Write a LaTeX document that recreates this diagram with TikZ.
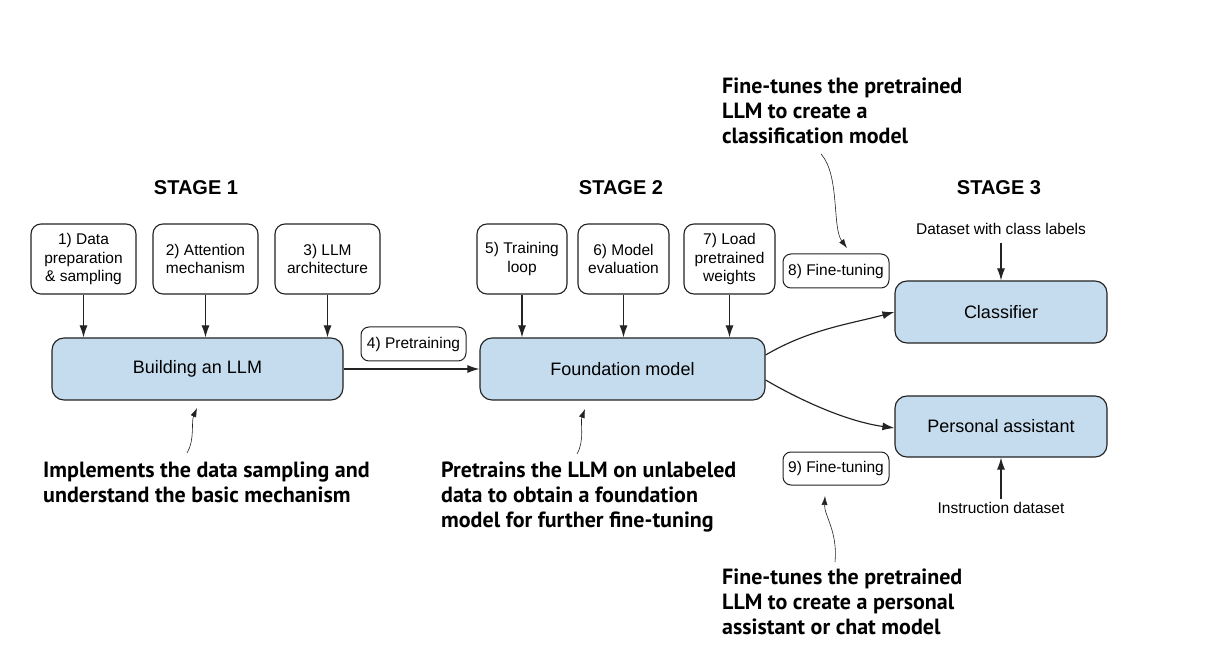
\documentclass[tikz,border=0pt]{standalone}
\usepackage{fontspec}
\setmainfont{Liberation Sans}
\newfontfamily\annfont{PT Sans}
\usetikzlibrary{arrows.meta,calc}
\definecolor{boxblue}{RGB}{197,220,238}
\definecolor{edge}{RGB}{35,35,35}
\begin{document}
\begin{tikzpicture}[x=1pt,y=-1pt,
  smallbox/.style={draw=edge, line width=1.15pt, rounded corners=10pt, align=center,
    font=\fontsize{15.5}{18.5}\selectfont, inner sep=0pt, minimum height=70pt},
  bigbox/.style={draw=edge, line width=1.15pt, rounded corners=12pt, fill=boxblue,
    font=\fontsize{18}{21}\selectfont, inner sep=0pt, minimum height=62pt},
  tagbox/.style={draw=edge, line width=1pt, rounded corners=8pt,
    font=\fontsize{15.5}{18}\selectfont, inner sep=0pt, minimum width=106pt, minimum height=34pt},
  stage/.style={font=\bfseries\fontsize{20}{24}\selectfont},
  plain/.style={font=\fontsize{15.5}{18}\selectfont, inner sep=2pt},
  ann/.style={font=\annfont\bfseries\fontsize{22}{25}\selectfont, align=left, anchor=north west, inner sep=0pt},
  arr/.style={-{Latex[length=12pt,width=8pt]}, line width=1.15pt, draw=edge},
  thinarr/.style={-{Latex[length=9pt,width=6pt]}, line width=0.6pt, draw=edge},
]
\useasboundingbox[fill=white] (0,0) rectangle (1211,652);

% stage titles
\node[stage] (s1) at (196,188) {STAGE 1};
\node[stage] (s2) at (621,188) {STAGE 2};
\node[stage] (s3) at (999,188) {STAGE 3};

% stage 1
\node[smallbox, minimum width=105pt] (b1) at (83.5,259) {1) Data\\preparation\\\& sampling};
\node[smallbox, minimum width=105pt] (b2) at (205.5,259) {2) Attention\\mechanism};
\node[smallbox, minimum width=105pt] (b3) at (327.5,259) {3) LLM\\architecture};
\node[bigbox, minimum width=291pt] (build) at (197.5,369) {Building an LLM};

\draw[arr] (b1.south) -- (b1.south |- build.north);
\draw[arr] (b2.south) -- (b2.south |- build.north);
\draw[arr] (b3.south) -- (b3.south |- build.north);

% pretraining
\node[tagbox, minimum width=105pt] (pre) at (413.5,344) {4) Pretraining};

% stage 2
\node[smallbox, minimum width=90pt] (b5) at (522,259) {5) Training\\loop};
\node[smallbox, minimum width=91pt] (b6) at (623.5,259) {6) Model\\evaluation};
\node[smallbox, minimum width=91pt] (b7) at (729.5,259) {7) Load\\pretrained\\weights};
\node[bigbox, minimum width=285pt] (found) at (622.5,369) {Foundation model};

\draw[arr] (b5.south) -- (b5.south |- found.north);
\draw[arr] (b6.south) -- (b6.south |- found.north);
\draw[arr] (b7.south) -- (b7.south |- found.north);
\draw[arr] (build.east) -- (found.west);

% stage 3
\node[tagbox] (ft8) at (836,271) {8) Fine-tuning};
\node[tagbox, minimum height=33pt] (ft9) at (836,468.5) {9) Fine-tuning};
\node[bigbox, minimum width=212pt] (cls) at (1001,312) {Classifier};
\node[bigbox, minimum width=212pt, minimum height=61pt] (pa) at (1001,426.5) {Personal assistant};
\node[plain] (ds) at (1001,229) {Dataset with class labels};
\node[plain] (ins) at (1001,508) {Instruction dataset};

\draw[arr] ([yshift=-6pt]ds.south) -- (cls.north);
\draw[arr] ([yshift=1pt]ins.north) -- (pa.south);

\draw[arr] ($(found.east)+(0,-14)$) .. controls (810,329) and (850,324) .. (cls.west);
\draw[arr] ($(found.east)+(0,11)$) .. controls (805,403) and (850,422) .. ($(pa.west)+(0,1.5)$);

% annotations
\node[ann] (a1) at (722,78) {Fine-tunes the pretrained\\LLM to create a\\classification model};
\node[ann] (a2) at (43,462) {Implements the data sampling and\\understand the basic mechanism};
\node[ann] (a3) at (441,462) {Pretrains the LLM on unlabeled\\data to obtain a foundation\\model for further fine-tuning};
\node[ann] (a4) at (722,569) {Fine-tunes the pretrained\\LLM to create a personal\\assistant or chat model};

\coordinate (t1) at (821,154);
\coordinate (h1) at (847,248);
\coordinate (t2) at (187,453);
\coordinate (h2) at (197,408);
\coordinate (t3) at (577,454);
\coordinate (h3) at (585,409);
\coordinate (t4) at (835,562);
\coordinate (h4) at (825,496);

\draw[thinarr] (t1) .. controls (840,175) and (832,228) .. (h1);
\draw[thinarr] (t2) .. controls (195,440) and (191,422) .. (h2);
\draw[thinarr] (t3) .. controls (585,440) and (580,422) .. (h3);
\draw[thinarr] (t4) .. controls (838,532) and (824,515) .. (h4);
\end{tikzpicture}
\end{document}
